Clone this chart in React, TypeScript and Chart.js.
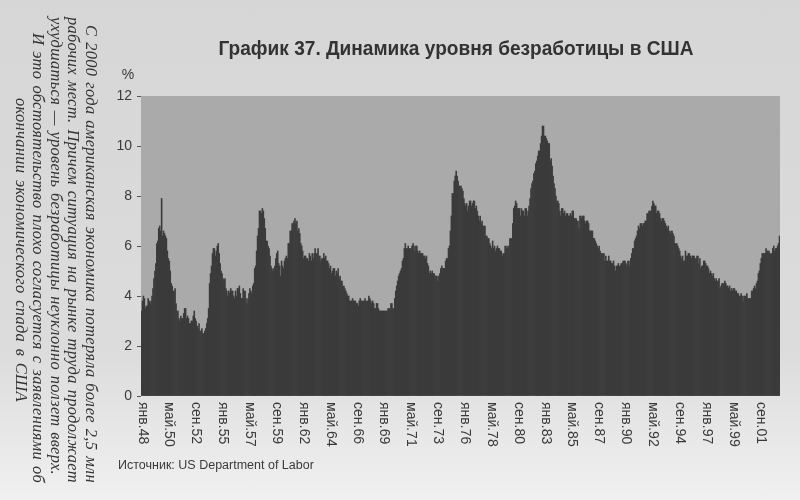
import React, { useEffect, useRef } from "react";
import { Chart, registerables } from "chart.js";

Chart.register(...registerables);

// Monthly US unemployment rate, %, Jan 1948 – Jun 2003
const rates1948to1955 = [
  3.4, 3.8, 4.0, 3.9, 3.5, 3.6, 3.6, 3.9, 3.8, 3.7, 3.8, 4.0,
  4.3, 4.7, 5.0, 5.3, 6.1, 6.2, 6.7, 6.8, 6.6, 7.9, 6.4, 6.6,
  6.5, 6.4, 6.3, 5.8, 5.5, 5.4, 5.0, 4.5, 4.4, 4.2, 4.2, 4.3,
  3.7, 3.4, 3.4, 3.1, 3.0, 3.2, 3.1, 3.1, 3.3, 3.5, 3.5, 3.1,
  3.2, 3.1, 2.9, 2.9, 3.0, 3.0, 3.2, 3.4, 3.1, 3.0, 2.8, 2.7,
  2.9, 2.6, 2.6, 2.7, 2.5, 2.5, 2.6, 2.7, 2.9, 3.1, 3.5, 4.5,
  4.9, 5.2, 5.7, 5.9, 5.9, 5.6, 5.8, 6.0, 6.1, 5.7, 5.3, 5.0,
  4.9, 4.7, 4.6, 4.7, 4.3, 4.2, 4.0, 4.2, 4.1, 4.3, 4.2, 4.2,
];
const rates1956to1963 = [
  4.0, 3.9, 4.2, 4.0, 4.3, 4.3, 4.4, 4.1, 3.9, 3.9, 4.3, 4.2,
  4.2, 3.9, 3.7, 3.9, 4.1, 4.3, 4.2, 4.1, 4.4, 4.5, 5.1, 5.2,
  5.8, 6.4, 6.7, 7.4, 7.4, 7.3, 7.5, 7.4, 7.1, 6.7, 6.2, 6.2,
  6.0, 5.9, 5.6, 5.2, 5.1, 5.0, 5.1, 5.2, 5.5, 5.7, 5.8, 5.3,
  5.2, 4.8, 5.4, 5.2, 5.1, 5.4, 5.5, 5.6, 5.5, 6.1, 6.1, 6.6,
  6.6, 6.9, 6.9, 7.0, 7.1, 6.9, 7.0, 6.6, 6.7, 6.5, 6.1, 6.0,
  5.8, 5.5, 5.6, 5.6, 5.5, 5.5, 5.4, 5.7, 5.6, 5.4, 5.7, 5.5,
  5.7, 5.9, 5.7, 5.7, 5.9, 5.6, 5.6, 5.4, 5.5, 5.5, 5.7, 5.5,
];
const rates1964to1971 = [
  5.6, 5.4, 5.4, 5.3, 5.1, 5.2, 4.9, 5.0, 5.1, 5.1, 4.8, 5.0,
  4.9, 5.1, 4.7, 4.8, 4.6, 4.6, 4.4, 4.4, 4.3, 4.2, 4.1, 4.0,
  4.0, 3.8, 3.8, 3.8, 3.9, 3.8, 3.8, 3.8, 3.7, 3.7, 3.6, 3.8,
  3.9, 3.8, 3.8, 3.8, 3.8, 3.9, 3.8, 3.8, 3.8, 4.0, 3.9, 3.8,
  3.7, 3.8, 3.7, 3.5, 3.5, 3.7, 3.7, 3.5, 3.4, 3.4, 3.4, 3.4,
  3.4, 3.4, 3.4, 3.4, 3.4, 3.5, 3.5, 3.5, 3.7, 3.7, 3.5, 3.5,
  3.9, 4.2, 4.4, 4.6, 4.8, 4.9, 5.0, 5.1, 5.4, 5.5, 5.9, 6.1,
  5.9, 5.9, 6.0, 5.9, 5.9, 5.9, 6.0, 6.1, 6.0, 5.8, 6.0, 6.0,
];
const rates1972to1979 = [
  5.8, 5.7, 5.8, 5.7, 5.7, 5.7, 5.6, 5.6, 5.5, 5.6, 5.3, 5.2,
  4.9, 5.0, 4.9, 5.0, 4.9, 4.9, 4.8, 4.8, 4.8, 4.6, 4.8, 4.9,
  5.1, 5.2, 5.1, 5.1, 5.1, 5.4, 5.5, 5.5, 5.9, 6.0, 6.6, 7.2,
  8.1, 8.1, 8.6, 8.8, 9.0, 8.8, 8.6, 8.4, 8.4, 8.4, 8.3, 8.2,
  7.9, 7.7, 7.6, 7.7, 7.4, 7.6, 7.8, 7.8, 7.6, 7.7, 7.8, 7.8,
  7.5, 7.6, 7.4, 7.2, 7.0, 7.2, 6.9, 7.0, 6.8, 6.8, 6.8, 6.4,
  6.4, 6.3, 6.3, 6.1, 6.0, 5.9, 6.2, 5.9, 6.0, 5.8, 5.9, 6.0,
  5.9, 5.9, 5.8, 5.8, 5.6, 5.7, 5.7, 6.0, 5.9, 6.0, 5.9, 6.0,
];
const rates1980to1987 = [
  6.3, 6.3, 6.3, 6.9, 7.5, 7.6, 7.8, 7.7, 7.5, 7.5, 7.5, 7.2,
  7.5, 7.4, 7.4, 7.2, 7.5, 7.5, 7.2, 7.4, 7.6, 7.9, 8.3, 8.5,
  8.6, 8.9, 9.0, 9.3, 9.4, 9.6, 9.8, 9.8, 10.1, 10.4, 10.8, 10.8,
  10.4, 10.4, 10.3, 10.2, 10.1, 10.1, 9.4, 9.5, 9.2, 8.8, 8.5, 8.3,
  8.0, 7.8, 7.8, 7.7, 7.4, 7.2, 7.5, 7.5, 7.3, 7.4, 7.2, 7.3,
  7.3, 7.2, 7.2, 7.3, 7.2, 7.4, 7.4, 7.1, 7.1, 7.1, 7.0, 7.0,
  6.7, 7.2, 7.2, 7.1, 7.2, 7.2, 7.0, 6.9, 7.0, 7.0, 6.9, 6.6,
  6.6, 6.6, 6.6, 6.3, 6.3, 6.2, 6.1, 6.0, 5.9, 6.0, 5.8, 5.7,
];
const rates1988to1995 = [
  5.7, 5.7, 5.7, 5.4, 5.6, 5.4, 5.4, 5.6, 5.4, 5.4, 5.3, 5.3,
  5.4, 5.2, 5.0, 5.2, 5.2, 5.3, 5.2, 5.2, 5.3, 5.3, 5.4, 5.4,
  5.4, 5.3, 5.2, 5.4, 5.4, 5.2, 5.5, 5.7, 5.9, 5.9, 6.2, 6.3,
  6.4, 6.6, 6.8, 6.7, 6.9, 6.9, 6.8, 6.9, 6.9, 7.0, 7.0, 7.3,
  7.3, 7.4, 7.4, 7.4, 7.6, 7.8, 7.7, 7.6, 7.6, 7.3, 7.4, 7.4,
  7.3, 7.1, 7.0, 7.1, 7.1, 7.0, 6.9, 6.8, 6.7, 6.8, 6.6, 6.5,
  6.6, 6.6, 6.5, 6.4, 6.1, 6.1, 6.1, 6.0, 5.9, 5.8, 5.6, 5.5,
  5.6, 5.4, 5.4, 5.8, 5.6, 5.6, 5.7, 5.7, 5.6, 5.5, 5.6, 5.6,
];
const rates1996to2003 = [
  5.6, 5.5, 5.5, 5.6, 5.6, 5.3, 5.5, 5.1, 5.2, 5.2, 5.4, 5.4,
  5.3, 5.2, 5.2, 5.1, 4.9, 5.0, 4.9, 4.8, 4.9, 4.7, 4.6, 4.7,
  4.6, 4.6, 4.7, 4.3, 4.4, 4.5, 4.5, 4.5, 4.6, 4.5, 4.4, 4.4,
  4.3, 4.4, 4.2, 4.3, 4.2, 4.3, 4.3, 4.2, 4.2, 4.1, 4.1, 4.0,
  4.0, 4.1, 4.0, 3.8, 4.0, 4.0, 4.0, 4.1, 3.9, 3.9, 3.9, 3.9,
  4.2, 4.2, 4.3, 4.4, 4.3, 4.5, 4.6, 4.9, 5.0, 5.3, 5.5, 5.7,
  5.7, 5.7, 5.7, 5.9, 5.8, 5.8, 5.8, 5.7, 5.7, 5.7, 5.9, 6.0,
  5.8, 5.9, 5.9, 6.0, 6.1, 6.4,
];

const unemployment = [
  ...rates1948to1955,
  ...rates1956to1963,
  ...rates1964to1971,
  ...rates1972to1979,
  ...rates1980to1987,
  ...rates1988to1995,
  ...rates1996to2003,
];

const monthNames = ["янв", "фев", "мар", "апр", "май", "июн", "июл", "авг", "сен", "окт", "ноя", "дек"];
const firstYear = 1948;
const tickEvery = 28;
const yTicks = [0, 2, 4, 6, 8, 10, 12];

const categories = unemployment.map((_, i) => {
  const m = i % 12;
  const y = (firstYear + Math.floor(i / 12)) % 100;
  return `${monthNames[m]}.${String(y).padStart(2, "0")}`;
});

const titleText = "График 37. Динамика уровня безработицы в США";
const sourceText = "Источник: US Department of Labor";
const sideLines = [
  "С 2000 года американская экономика потеряла более 2,5 млн",
  "рабочих мест. Причем ситуация на рынке труда продолжает",
  "ухудшаться — уровень безработицы неуклонно ползет вверх.",
  "И это обстоятельство плохо согласуется с заявлениями об",
];
const sideLastLine = "окончании экономического спада в США";

const decorPlugin = {
  id: "decor",
  beforeDraw(chart: any) {
    const { ctx, chartArea: a } = chart;
    ctx.save();
    ctx.fillStyle = "#aaaaaa";
    ctx.fillRect(a.left, a.top, a.right - a.left, a.bottom - a.top);
    ctx.restore();
  },
  afterDraw(chart: any) {
    const { ctx, chartArea: a } = chart;
    const xs = chart.scales.x;
    ctx.save();
    // x tick labels, rotated clockwise
    ctx.fillStyle = "#3a3a3a";
    ctx.font = "14px 'Liberation Sans', Arial, sans-serif";
    ctx.textAlign = "left";
    ctx.textBaseline = "middle";
    categories.forEach((lab, i) => {
      if (i % tickEvery !== 0) return;
      const x = xs.getPixelForValue(i);
      ctx.save();
      ctx.translate(x + 1, a.bottom + 6);
      ctx.rotate(Math.PI / 2);
      ctx.fillText(lab, 0, 0);
      ctx.restore();
    });
    // % unit
    ctx.font = "14px 'Liberation Sans', Arial, sans-serif";
    ctx.fillStyle = "#3a3a3a";
    ctx.textAlign = "center";
    ctx.textBaseline = "middle";
    ctx.fillText("%", a.left - 13, a.top - 21);
    // title (condensed bold)
    ctx.font = "bold 21px 'Liberation Sans', Arial, sans-serif";
    ctx.fillStyle = "#333";
    const w = ctx.measureText(titleText).width;
    const targetW = 475;
    ctx.save();
    ctx.translate(456, 49);
    ctx.scale(targetW / w, 1);
    ctx.fillText(titleText, 0, 0);
    ctx.restore();
    // source
    ctx.font = "12.5px 'Liberation Sans', Arial, sans-serif";
    ctx.fillStyle = "#3a3a3a";
    ctx.textAlign = "left";
    ctx.fillText(sourceText, 118, 466);
    ctx.restore();
  },
};

const lineStyle = (extra: any) => ({
  textAlign: "justify" as const,
  textAlignLast: "justify" as const,
  whiteSpace: "nowrap" as const,
  ...extra,
});

export default function App() {
  const canvasRef = useRef<HTMLCanvasElement>(null);

  useEffect(() => {
    if (!canvasRef.current) return;
    const chart = new Chart(canvasRef.current, {
      type: "bar",
      data: {
        labels: categories,
        datasets: [
          {
            data: unemployment,
            backgroundColor: "#3b3b3b",
            borderWidth: 0,
            barPercentage: 1,
            categoryPercentage: 1,
          },
        ],
      },
      options: {
        responsive: false,
        animation: false,
        layout: { padding: { left: 100, right: 20, top: 96, bottom: 0 } },
        plugins: { legend: { display: false }, tooltip: { enabled: false }, title: { display: false } },
        scales: {
          x: {
            ticks: { display: false },
            grid: { display: false },
            border: { display: false },
            afterFit: (s: any) => {
              s.height = 104;
            },
          },
          y: {
            min: 0,
            max: 12,
            afterBuildTicks: (s: any) => {
              s.ticks = yTicks.map((v) => ({ value: v }));
            },
            ticks: {
              color: "#3a3a3a",
              font: { size: 14, family: "'Liberation Sans', Arial, sans-serif" },
              padding: 5,
            },
            grid: { display: true, drawOnChartArea: false, drawTicks: true, tickLength: 4, color: "#555" },
            border: { display: false },
            afterFit: (s: any) => {
              s.width = 41;
            },
          },
        },
      },
      plugins: [decorPlugin],
    });
    return () => chart.destroy();
  }, []);

  return (
    <div
      style={{
        position: "absolute",
        left: 0,
        top: 0,
        width: 800,
        height: 500,
        overflow: "hidden",
        background: "linear-gradient(180deg, #d6d6d6 0%, #dcdcdc 70%, #f0f0f0 100%)",
      }}
    >
      <canvas ref={canvasRef} width={800} height={500} style={{ position: "absolute", left: 0, top: 0 }} />
      <div
        style={{
          position: "absolute",
          left: 0,
          top: 0,
          width: 466,
          height: 90,
          transformOrigin: "0 0",
          transform: "translate(100px, 17px) rotate(90deg)",
          fontFamily: "'Liberation Serif', 'DejaVu Serif', serif",
          fontStyle: "italic",
          fontSize: 16.5,
          lineHeight: "17.5px",
          color: "#333",
          letterSpacing: "0.3px",
        }}
      >
        <div style={lineStyle({ paddingLeft: 8 })}>{sideLines[0]}</div>
        <div style={lineStyle({})}>{sideLines[1]}</div>
        <div style={lineStyle({ paddingRight: 8 })}>{sideLines[2]}</div>
        <div style={lineStyle({ paddingLeft: 16 })}>{sideLines[3]}</div>
        <div style={{ paddingLeft: 81, width: 304, textAlign: "justify", textAlignLast: "justify", whiteSpace: "nowrap" }}>
          {sideLastLine}
        </div>
      </div>
    </div>
  );
}
